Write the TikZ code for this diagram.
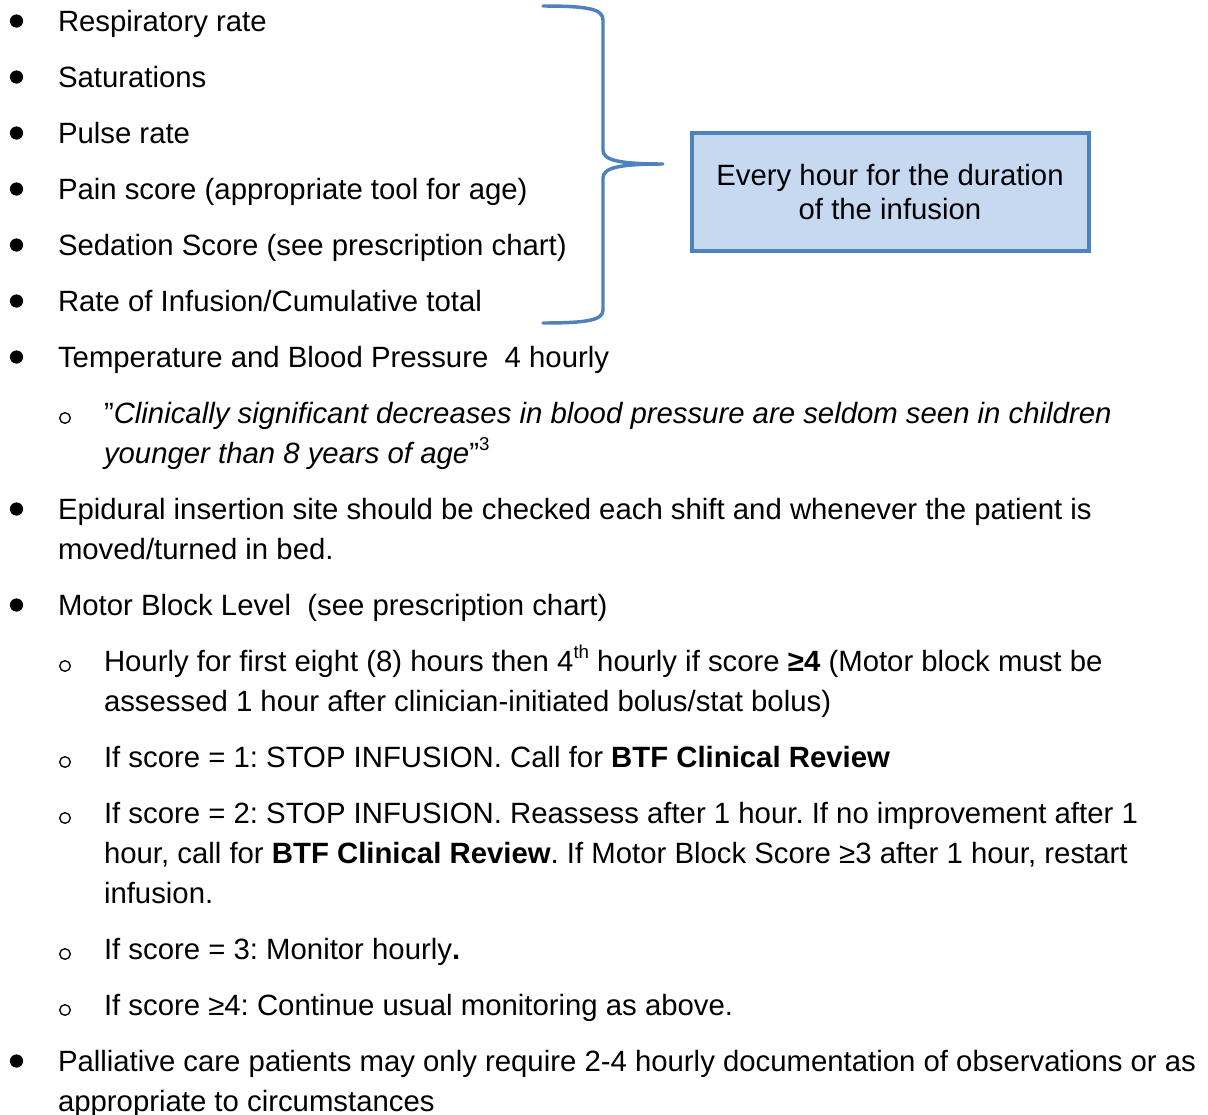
\documentclass[tikz,border=0pt]{standalone}
\usepackage{fontspec}
\setmainfont{Liberation Sans}
\frenchspacing
\definecolor{bracecol}{HTML}{4F81BD}
\definecolor{boxfill}{HTML}{C6D9F1}
\newcommand{\mysup}[1]{\raisebox{0.42em}{\fontsize{14pt}{14pt}\selectfont #1}}
\tikzset{
  txt/.style={anchor=base west, inner sep=0pt, outer sep=0pt, font=\fontsize{22pt}{25pt}\selectfont},
  bul/.style={fill=black, draw=none},
  subbul/.style={draw=black, line width=1pt},
  bracestyle/.style={draw=bracecol, line width=2.6pt, line cap=round, line join=round},
  infobox/.style={draw=bracecol, fill=boxfill, line width=2.3pt}
}
\begin{document}
\begin{tikzpicture}[x=0.75pt, y=-0.75pt]
\useasboundingbox[fill=white] (0,0) rectangle (1208,1115);
% level-1 lines
\foreach \yy/\nm/\tx in {
  31/l1/{Respiratory rate},
  87/l2/{Saturations},
  143/l3/{Pulse rate},
  199/l4/{Pain score (appropriate tool for age)},
  255/l5/{Sedation Score (see prescription chart)},
  311/l6/{Rate of Infusion/Cumulative total},
  367/l7/{Temperature and Blood Pressure\ \ 4 hourly},
  519/l8/{Epidural insertion site should be checked each shift and whenever the patient is},
  615/l9/{Motor Block Level\ \ (see prescription chart)},
  1071/l10/{Palliative care patients may only require 2-4 hourly documentation of observations or as}}{
  \fill[bul] (16.5,\yy-10) circle (6.6);
  \node[txt] (\nm) at (58,\yy) {\tx};
}
\node[txt] (l8b) at (58,559) {moved/turned in bed.};
\node[txt] (l10b) at (58,1111) {appropriate to circumstances};
% level-2 lines
\foreach \yy in {423,671,767,823,959,1015}{
  \draw[subbul] (65,\yy-5) circle (5.3);
}
\node[txt] (s1) at (104,423) {”\textit{Clinically significant decreases in blood pressure are seldom seen in children}};
\node[txt] (s1b) at (104,463) {\textit{younger than 8 years of age}”\mysup{3}};
\node[txt] (s2) at (104,671) {Hourly for first eight (8) hours then 4\mysup{th} hourly if score \textbf{≥4} (Motor block must be};
\node[txt] (s2b) at (104,711) {assessed 1 hour after clinician-initiated bolus/stat bolus)};
\node[txt] (s3) at (104,767) {If score = 1: STOP INFUSION. Call for \textbf{BTF Clinical Review}};
\node[txt] (s4) at (104,823) {If score = 2: STOP INFUSION. Reassess after 1 hour. If no improvement after 1};
\node[txt] (s4b) at (104,863) {hour, call for \textbf{BTF Clinical Review}. If Motor Block Score ≥3 after 1 hour, restart};
\node[txt] (s4c) at (104,903) {infusion.};
\node[txt] (s5) at (104,959) {If score = 3: Monitor hourly\textbf{.}};
\node[txt] (s6) at (104,1015) {If score ≥4: Continue usual monitoring as above.};
% brace
\coordinate (btop) at (543,6);
\coordinate (btip) at (663,164);
\coordinate (bbot) at (543,323);
\draw[bracestyle] (btop) .. controls (588,6) and (603,9) .. (603,20) -- (603,150)
  .. controls (603,160) and (618,164) .. (btip)
  .. controls (618,164) and (603,168) .. (603,178) -- (603,310)
  .. controls (603,320) and (588,323) .. (bbot);
% box
\draw[infobox] (692,133) rectangle (1089,251);
\node[anchor=base, inner sep=0pt, font=\fontsize{22pt}{25pt}\selectfont] (b1) at (890,185) {Every hour for the duration};
\node[anchor=base, inner sep=0pt, font=\fontsize{22pt}{25pt}\selectfont] (b2) at (890,219) {of the infusion};
\end{tikzpicture}
\end{document}
